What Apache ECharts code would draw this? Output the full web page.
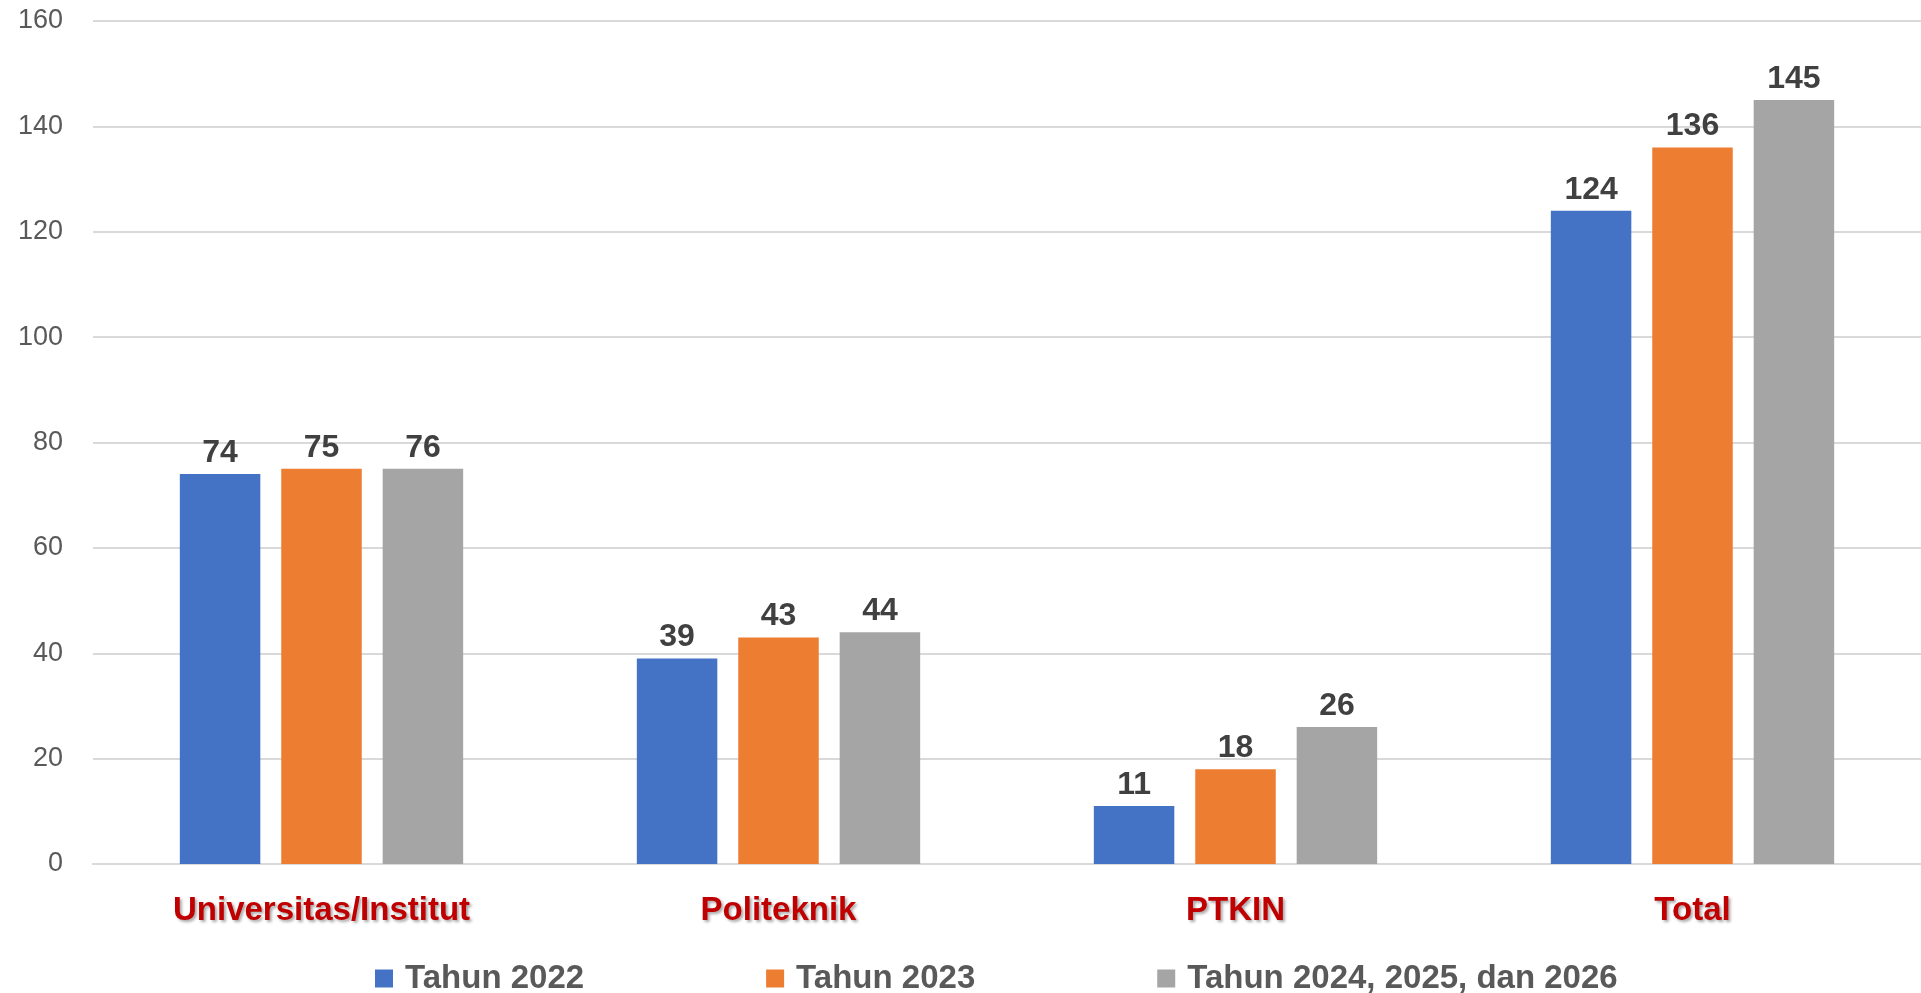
<!DOCTYPE html>
<html>
<head>
<meta charset="utf-8">
<script src="https://cdn.jsdelivr.net/npm/echarts@6/dist/echarts.min.js"></script>
<style>
html,body{margin:0;padding:0;background:#fff;}
#chart{width:1921px;height:993px;}
</style>
</head>
<body>
<div id="chart"></div>
<script>
const categories = ['Universitas/Institut', 'Politeknik', 'PTKIN', 'Total'];
const seriesNames = ['Tahun 2022', 'Tahun 2023', 'Tahun 2024, 2025, dan 2026'];
const values2022 = [74, 39, 11, 124];
const values2023 = [75, 43, 18, 136];
const values2024 = [75, 44, 26, 145];
const labels2022 = ['74', '39', '11', '124'];
const labels2023 = ['75', '43', '18', '136'];
const labels2024 = ['76', '44', '26', '145'];
const colors = ['#4472C4', '#ED7D31', '#A5A5A5'];

const FONT = '"Liberation Sans", Arial, sans-serif';

function makeSeries(name, data, labels, color) {
  return {
    name: name,
    type: 'bar',
    data: data,
    barGap: '26%',
    barCategoryGap: '38%',
    itemStyle: { color: color },
    label: {
      show: true,
      position: 'top',
      distance: 5,
      fontFamily: FONT,
      fontWeight: 'bold',
      fontSize: 32,
      color: '#404040',
      formatter: function (p) { return labels[p.dataIndex]; }
    }
  };
}

const chart = echarts.init(document.getElementById('chart'), null, { renderer: 'canvas' });
chart.setOption({
  animation: false,
  color: colors,
  grid: { left: 93, right: 0, top: 21, bottom: 129, containLabel: false },
  legend: {
    left: 370,
    top: 957,
    itemGap: 182,
    itemWidth: 18,
    itemHeight: 18,
    icon: 'rect',
    textStyle: { fontFamily: FONT, fontWeight: 'bold', fontSize: 33, color: '#595959', padding: [0, 0, 0, 7] },
    data: seriesNames
  },
  xAxis: {
    type: 'category',
    data: categories,
    axisLine: { show: true, lineStyle: { color: '#d9d9d9', width: 2 } },
    axisTick: { show: false },
    axisLabel: {
      margin: 30,
      fontFamily: FONT,
      fontWeight: 'bold',
      fontSize: 33,
      color: '#C00000',
      textShadowColor: 'rgba(0,0,0,0.35)',
      textShadowBlur: 3,
      textShadowOffsetX: 2,
      textShadowOffsetY: 2
    }
  },
  yAxis: {
    type: 'value',
    min: 0,
    max: 160,
    interval: 20,
    axisLine: { show: false },
    axisTick: { show: false },
    splitLine: { lineStyle: { color: '#d9d9d9', width: 2 } },
    axisLabel: { margin: 30, fontFamily: FONT, fontSize: 27, color: '#595959' }
  },
  series: [
    makeSeries(seriesNames[0], values2022, labels2022, colors[0]),
    makeSeries(seriesNames[1], values2023, labels2023, colors[1]),
    makeSeries(seriesNames[2], values2024, labels2024, colors[2])
  ]
});
</script>
</body>
</html>
